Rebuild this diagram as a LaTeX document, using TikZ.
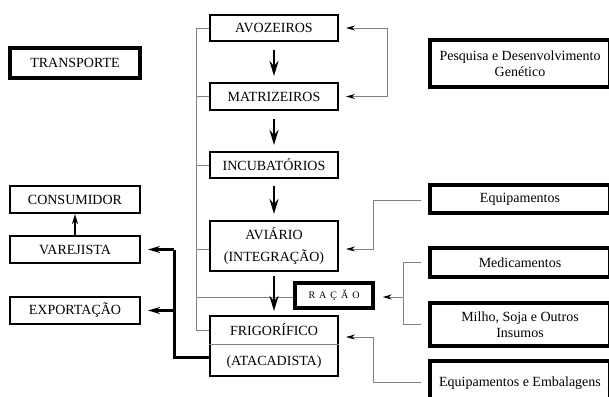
\documentclass[tikz,border=0pt]{standalone}
\usepackage{fontspec}
\setmainfont{Liberation Serif}
\usetikzlibrary{arrows.meta}
\begin{document}
\begin{tikzpicture}[x=1pt,y=-1pt,
  box/.style={draw, line width=2pt, inner sep=0pt, align=center, font=\fontsize{14}{16}\selectfont},
  tbox/.style={box, line width=3.5pt},
  lbl/.style={inner sep=0pt, align=center, font=\fontsize{14}{16}\selectfont},
  thin/.style={draw=black!50, line width=0.9pt},
  thinarrow/.style={thin, -{Stealth[length=9pt,width=5pt,inset=3pt,black]}},
  flow/.style={line width=2.8pt, -{Stealth[length=15pt,width=9pt,inset=5pt]}},
  heavy/.style={line width=3pt},
  heavyarrow/.style={line width=3pt, -{Stealth[length=12pt,width=7pt,inset=4pt]}}]
\path[use as bounding box] (0,0) rectangle (609,396);
\clip (0,0) rectangle (609,396);
\fill[white] (0,0) rectangle (609,396);

% central column
\node[box, minimum width=128pt, minimum height=26pt] (avo) at (274,28) {AVOZEIROS};
\node[box, minimum width=128pt, minimum height=27pt] (mat) at (274,96.5) {MATRIZEIROS};
\node[box, minimum width=128pt, minimum height=26pt] (inc) at (274,165) {INCUBATÓRIOS};
\node[box, minimum width=128pt, minimum height=50pt] (avi) at (274,246) {AVIÁRIO\\[6pt](INTEGRAÇÃO)};
\node[box, minimum width=128pt, minimum height=60pt] (frig) at (274,346) {};
\node[lbl] (frigt) at (274,330) {FRIGORÍFICO};
\node[lbl] (frigb) at (274,362) {(ATACADISTA)};
\draw[thin] (frig.west |- 0,344) -- (frig.east |- 0,344);
\node[tbox, minimum width=78pt, minimum height=25pt, font=\fontsize{10}{12}\selectfont] (rac) at (334,295.5) {R\hspace{4pt}A\hspace{4pt}Ç\hspace{4pt}Ã\hspace{4pt}O};

% left column
\node[tbox, minimum width=130pt, minimum height=30pt] (tra) at (75,63) {TRANSPORTE};
\node[box, minimum width=130pt, minimum height=27pt] (con) at (75,199.5) {CONSUMIDOR};
\node[box, minimum width=130pt, minimum height=27pt] (var) at (75,249.5) {VAREJISTA};
\node[box, minimum width=130pt, minimum height=27pt] (exp) at (75,310.5) {EXPORTAÇÃO};

% right column
\node[tbox, minimum width=180pt, minimum height=47pt] (pes) at (520,63.5) {Pesquisa e Desenvolvimento\\Genético};
\node[tbox, minimum width=180pt, minimum height=28pt] (equ) at (520,199) {Equipamentos};
\node[tbox, minimum width=180pt, minimum height=29pt] (med) at (520,262.5) {Medicamentos};
\node[tbox, minimum width=180pt, minimum height=43pt] (mil) at (520,324.5) {Milho, Soja e Outros\\Insumos};
\node[tbox, minimum width=180pt, minimum height=50pt, anchor=north] (emb) at (520,359) {};
\node[lbl] (embt) at (520,383) {Equipamentos e Embalagens};

% gray spine on the left of the central column
\coordinate (spT) at (196,28);
\coordinate (spB) at (196,330);
\draw[thin] (spT) -- (spB);
\draw[thin] (spT) -- (avo.west);
\draw[thin] (spT |- mat.west) -- (mat.west);
\draw[thin] (spT |- inc.west) -- (inc.west);
\draw[thin] (196,249) -- (avi.west |- 0,249);
\draw[thin] (196,297) -- (rac.west |- 0,297);
\draw[thin] (spB) -- (frig.west |- spB);

% main flow
\draw[flow, shorten <=8pt, shorten >=6pt] (avo.south) -- (mat.north);
\draw[flow, shorten <=8pt, shorten >=6pt] (mat.south) -- (inc.north);
\draw[flow, shorten <=7pt, shorten >=6pt] (inc.south) -- (avi.north);
\draw[flow, shorten <=4pt, shorten >=4pt] (avi.south) -- (frig.north);

% genetics feedback
\coordinate (fb) at (387,28);
\draw[thinarrow] (fb) -- ([xshift=7pt]avo.east);
\draw[thinarrow] (fb) -- (fb |- mat.east) -- ([xshift=7pt]mat.east);

% equipamentos
\coordinate (eq1) at (373,200);
\draw[thinarrow] ([xshift=-7pt]equ.west |- eq1) -- (eq1) -- (373,249) -- ([xshift=7pt]avi.east |- 0,249);

% medicamentos / milho -> ração
\coordinate (mm) at (403,297);
\draw[thin] ([xshift=-7pt]med.west) -- (med.west -| mm) -- (mil.west -| mm) -- ([xshift=-7pt]mil.west);
\draw[thinarrow] (mm) -- ([xshift=8pt]rac.east |- mm);

% equipamentos e embalagens
\coordinate (ee) at (373,382);
\draw[thinarrow] ([xshift=-7pt]emb.west |- ee) -- (ee) -- (373,337) -- ([xshift=7pt]frig.east |- 0,337);

% distribution
\coordinate (dv) at (174,357);
\draw[heavy] (frig.west |- dv) -- (dv) -- (dv |- var.east);
\draw[heavyarrow] (dv |- var.east) -- ([xshift=7pt]var.east);
\draw[heavyarrow] (dv |- exp.east) -- ([xshift=7pt]exp.east);
\draw[line width=2pt, -{Stealth[length=10pt,width=6pt,inset=3pt]}] (var.north) -- (con.south);
\end{tikzpicture}
\end{document}
